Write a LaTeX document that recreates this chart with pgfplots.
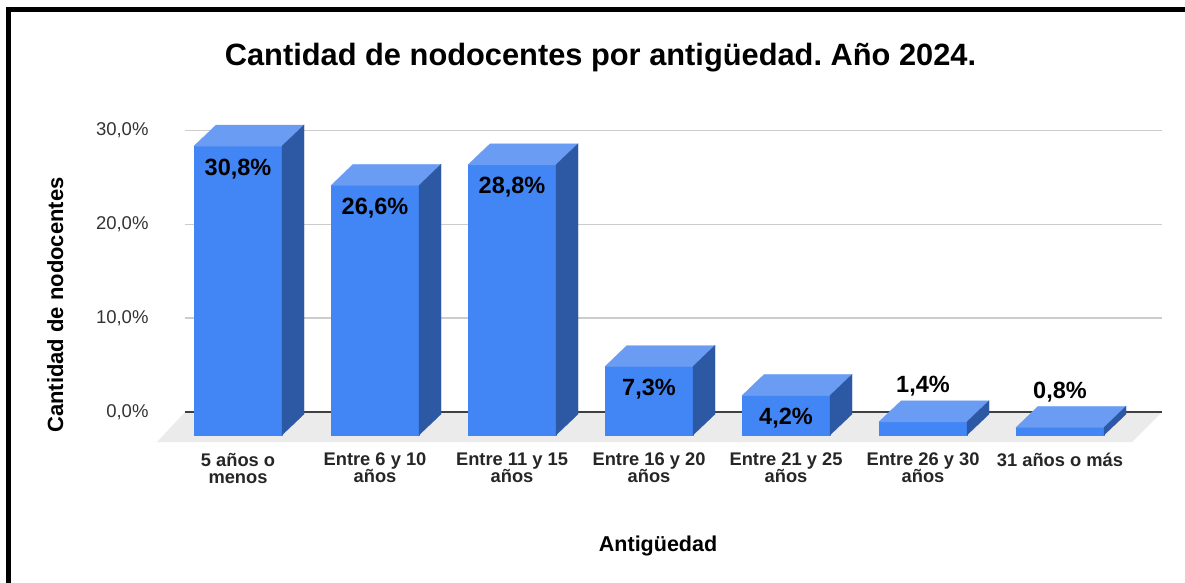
\documentclass[border=0pt]{standalone}
\usepackage{fontspec}
\setmainfont{Liberation Sans}
\usepackage{pgfplots}
\usepackage{pgfplotstable}
\pgfplotsset{compat=1.18}
\frenchspacing

\definecolor{barfront}{HTML}{4285F4}
\definecolor{bartop}{HTML}{6A9CF3}
\definecolor{barside}{HTML}{2D58A3}
\definecolor{floorgray}{HTML}{EBEBEB}
\definecolor{gridgray}{HTML}{CCCCCC}

\pgfdeclareplotmark{empty}{}

% share per seniority bracket; off = label baseline offset (pt) from the data point
\pgfplotstableread{
idx val  off
0   30.8 -52
1   26.6 -52
2   28.8 -52
3   7.3  -52
4   4.2  -52
5   1.4  6
6   0.8  6
}\antig

\begin{document}
\begin{tikzpicture}
\path[use as bounding box] (-185pt,-133.48pt) rectangle (1000pt,449.52pt);
\begin{axis}[
    scale only axis,
    x=137pt, y=9.38pt,
    xmin=-0.387, xmax=6.745,
    ymin=-4, ymax=34,
    enlargelimits=false,
    clip=false,
    axis line style={draw=none},
    major tick length=0pt,
    ytick={0,10,20,30},
    yticklabels={{0,0\%},{10,0\%},{20,0\%},{30,0\%}},
    yticklabel style={font=\fontsize{18.5}{18.5}\selectfont, text=black!80, anchor=east, xshift=-33pt},
    ymajorgrids,
    grid style={gridgray, line width=1.5pt},
    xtick={0,1,2,3,4,5,6},
    xticklabels={{5 años o\\menos},{Entre 6 y 10\\años},{Entre 11 y 15\\años},
      {Entre 16 y 20\\años},{Entre 21 y 25\\años},{Entre 26 y 30\\años},{31 años o más}},
    xticklabel style={font=\fontsize{18.3}{17}\selectfont\bfseries, align=center, text=black!85},
  ]
  % floor
  \addplot[fill=floorgray, draw=none] coordinates {
    (-0.387,0) (6.745,0) (6.526,-3.2) (-0.591,-3.2)
  } -- cycle;
  % baseline
  \addplot[black!75, line width=1.5pt] coordinates {(-0.387,0) (6.745,0)};
  % 3d bars
  \addplot[scatter, only marks, mark=empty,
    visualization depends on={\thisrow{val}\as\val},
    visualization depends on={\thisrow{off}\as\off},
    scatter/@pre marker code/.code={
      \fill[barfront] (-44pt,{-23pt-\val*9.38pt}) rectangle (44pt,-23pt);
      \fill[bartop] (-44pt,-23pt) -- (44pt,-23pt) -- (66pt,-2pt) -- (-22pt,-2pt) -- cycle;
      \fill[barside] (44pt,-23pt) -- (66pt,-2pt) -- (66pt,{-2pt-\val*9.38pt}) -- (44pt,{-23pt-\val*9.38pt}) -- cycle;
      \node[anchor=base, inner sep=0pt, font=\fontsize{23.5}{23.5}\selectfont\bfseries] at (0pt,\off pt)
        {\pgfmathprintnumber[fixed, fixed zerofill, precision=1, use comma, assume math mode=true]{\val}\%};
    },
    scatter/@post marker code/.code={},
  ] table[x=idx, y=val] {\antig};

  \node[anchor=base, font=\fontsize{30.8}{30.8}\selectfont\bfseries] at (axis cs:2.646,36.99)
    {Cantidad de nodocentes por antigüedad. Año 2024.};
  \node[anchor=base, font=\fontsize{21.5}{21.5}\selectfont\bfseries] at (axis cs:3.066,-14.82) {Antigüedad};
  \node[anchor=base, rotate=90, font=\fontsize{22}{22}\selectfont\bfseries] at (axis cs:-1.277,11.4)
    {Cantidad de nodocentes};
\end{axis}
% frame
\draw[line width=5pt] (-176.5pt,-140pt) -- (-176.5pt,439.52pt) -- (1005pt,439.52pt);
\end{tikzpicture}
\end{document}
